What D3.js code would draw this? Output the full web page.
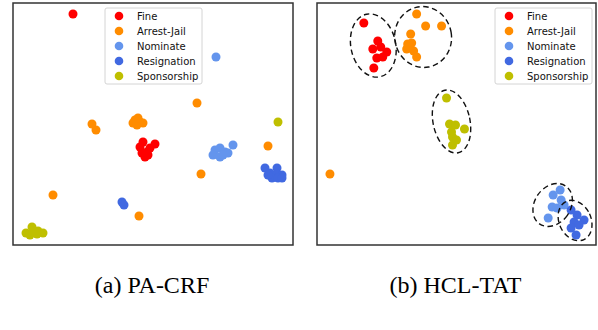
<!DOCTYPE html>
<html lang="en">
<head>
<meta charset="UTF-8">
<title>PA-CRF vs HCL-TAT</title>
<script src="https://d3js.org/d3.v7.min.js"></script>
<style>
    body { margin: 0; background: #fff; }
    svg { display: block; }
    .legend text { font-family: "DejaVu Sans", sans-serif; font-size: 10px; }
    .caption { font-family: "Liberation Serif", "Times New Roman", serif; font-size: 24px; }
</style>
</head>
<body>
<div id="chart"></div>
<script>
// relation classes, shared by both panels
const categories = ["Fine", "Arrest-Jail", "Nominate", "Resignation", "Sponsorship"];
const colors = ["#ff0000", "#ff8c00", "#6495ed", "#4169e1", "#bfbf00"];

// 2-D embedding points per class (panel units, x right / y up)
const paFine = [[60,231],[130,103],[142,101],[127,98],[129,92],[135,90],[137,97],[132,88],[134,93]];
const paArrest = [[184,142],[79,121],[83,115],[122,125],[127,123],[124,120],[130,122],[120,122],[125,127],[255,99],[188,71],[40,50],[126,29]];
const paNominate = [[203,188],[220,100],[202,95],[207,97],[212,93],[215,92],[200,90],[207,88],[210,90]];
const paResignation = [[109,43],[111,40],[252,77],[264,77],[257,72],[264,71],[269,70],[259,67],[265,67],[269,67],[255,70]];
const paSponsorship = [[265,123],[13,12],[19,18],[20,13],[25,14],[30,12],[17,10],[24,11]];

const hcFine = [[47,222],[61,204],[56,196],[64,198],[70,193],[60,187],[66,188],[57,177]];
const hcArrest = [[100,231],[109,219],[125,219],[94,211],[91,201],[95,202],[90,196],[97,194],[100,188],[93,198],[13,71]];
const hcNominate = [[244,55],[237,50],[245,45],[236,38],[241,37],[248,40],[232,27]];
const hcResignation = [[255,35],[261,30],[268,25],[258,23],[255,17],[260,10],[263,20]];
const hcSponsorship = [[130,147],[133,121],[139,120],[148,116],[135,113],[136,108],[136,100],[140,105]];

// cluster outlines in panel (b): cx, cy, rx, ry, angle
const hcClusters = [[56.5,199.5,22.5,32,-12],[106.5,208,28.5,30.5,-10],[135,123.5,18.5,32,-12],[236.5,40,18,23,35],[259,24.5,16,21,-25]];

const captions = ["(a) PA-CRF", "(b) HCL-TAT"];

const width = 598, height = 330;
const svg = d3.select("#chart").append("svg")
    .attr("width", width)
    .attr("height", height);

const panels = [
    { left: 13, right: 293, series: [paFine, paArrest, paNominate, paResignation, paSponsorship], clusters: [], legendX: 105 },
    { left: 317, right: 596, series: [hcFine, hcArrest, hcNominate, hcResignation, hcSponsorship], clusters: hcClusters, legendX: 495 }
];
const plotTop = 3, plotBottom = 245;

panels.forEach((p, pi) => {
    const x = d3.scaleLinear().domain([0, 280]).range([p.left, p.right]);
    const y = d3.scaleLinear().domain([0, 242]).range([plotBottom, plotTop]);
    const g = svg.append("g");

    // points
    p.series.forEach((pts, ci) => {
        g.selectAll(null)
            .data(pts)
            .enter().append("circle")
            .attr("cx", d => x(d[0]))
            .attr("cy", d => y(d[1]))
            .attr("r", 4.5)
            .attr("fill", colors[ci]);
    });

    // dashed cluster ellipses
    g.selectAll(null)
        .data(p.clusters)
        .enter().append("ellipse")
        .attr("transform", d => `translate(${x(d[0])},${y(d[1])}) rotate(${d[4]})`)
        .attr("rx", d => x(d[2]) - x(0))
        .attr("ry", d => y(0) - y(d[3]))
        .attr("fill", "none")
        .attr("stroke", "#111")
        .attr("stroke-width", 1.4)
        .attr("stroke-dasharray", "5.5,3.5");

    // frame
    g.append("rect")
        .attr("x", p.left)
        .attr("y", plotTop)
        .attr("width", p.right - p.left)
        .attr("height", plotBottom - plotTop)
        .attr("fill", "none")
        .attr("stroke", "#333")
        .attr("stroke-width", 1.5);

    // legend
    const legend = g.append("g").attr("class", "legend")
        .attr("transform", `translate(${p.legendX},8)`);
    legend.append("rect")
        .attr("width", 97)
        .attr("height", 76)
        .attr("rx", 2)
        .attr("fill", "rgba(255,255,255,0.85)")
        .attr("stroke", "#d4d4d4");
    const items = legend.selectAll(".item")
        .data(categories)
        .enter().append("g")
        .attr("class", "item")
        .attr("transform", (d, i) => `translate(0,${8 + i * 15})`);
    items.append("circle")
        .attr("cx", 14)
        .attr("r", 4.3)
        .attr("fill", (d, i) => colors[i]);
    items.append("text")
        .attr("x", 32)
        .attr("dy", "0.35em")
        .attr("fill", "#111")
        .text(d => d);

    svg.append("text")
        .attr("class", "caption")
        .attr("x", (p.left + p.right) / 2 - 1)
        .attr("y", 293)
        .attr("text-anchor", "middle")
        .text(captions[pi]);
});
</script>
</body>
</html>
